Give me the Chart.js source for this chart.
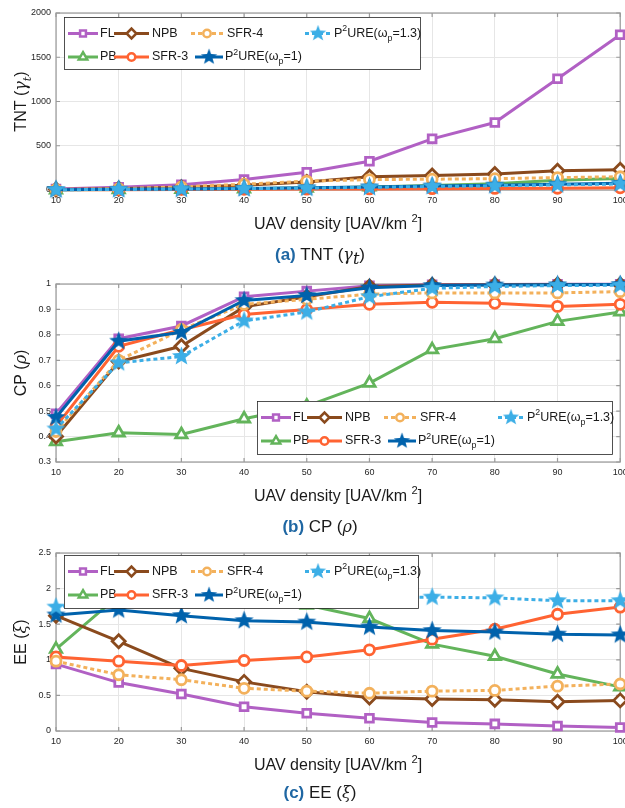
<!DOCTYPE html>
<html>
<head>
<meta charset="utf-8">
<script src="https://cdn.jsdelivr.net/npm/chart.js@4.4.1/dist/chart.umd.min.js"></script>
<style>
    html, body { margin: 0; background: #fff; overflow: hidden; }
    #wrap { position: relative; width: 625px; height: 808px; font-family: "Liberation Sans", Arial, sans-serif; overflow: hidden; }
    #wrap canvas { position: absolute; left: 0; }
    .cap { position: absolute; left: 0; width: 640px; text-align: center; font-size: 17px; line-height: 20px; color: #1a1a1a; }
    .cap b { color: #1f67a3; }
    .cap i { font-family: "DejaVu Serif", serif; font-size: 16px; }
    .cap sub { font-size: 11px; }
</style>
</head>
<body>
<div id="wrap">
    <!-- lienzos algo mas anchos que la ventana: la etiqueta "100" queda cortada como en la figura -->
    <canvas id="chartTNT" width="633" height="270" style="top:0px"></canvas>
    <canvas id="chartCP" width="633" height="270" style="top:270px"></canvas>
    <canvas id="chartEE" width="633" height="268" style="top:540px"></canvas>
    <div class="cap" style="top:245px"><b>(a)</b> TNT (<i>γ</i><sub><i>t</i></sub>)</div>
    <div class="cap" style="top:517px"><b>(b)</b> CP (<i>ρ</i>)</div>
    <div class="cap" style="top:783px"><b>(c)</b> EE (<i>ξ</i>)</div>
</div>
<script>
/* ---- datos ---- */
const densidad = [10, 20, 30, 40, 50, 60, 70, 80, 90, 100];

// (a) TNT
const tntFL    = [10, 30, 60, 118, 200, 325, 578, 762, 1258, 1755];
const tntPB    = [2, 5, 8, 14, 22, 35, 50, 70, 110, 130];
const tntNPB   = [5, 15, 30, 55, 90, 150, 165, 182, 218, 230];
const tntSFR3  = [2, 4, 6, 8, 10, 12, 15, 18, 20, 25];
const tntSFR4  = [5, 15, 35, 65, 100, 118, 122, 128, 140, 150];
const tntP2U1  = [3, 8, 12, 18, 25, 35, 45, 55, 65, 75];
const tntP2U13 = [3, 6, 10, 15, 22, 30, 40, 48, 58, 68];

// (b) CP
const cpFL    = [0.49, 0.785, 0.835, 0.95, 0.972, 0.993, 0.997, 0.998, 0.999, 0.999];
const cpPB    = [0.38, 0.415, 0.408, 0.47, 0.52, 0.61, 0.742, 0.785, 0.853, 0.89];
const cpNPB   = [0.40, 0.695, 0.755, 0.91, 0.95, 0.99, 0.996, 0.997, 0.998, 0.998];
const cpSFR3  = [0.44, 0.755, 0.82, 0.88, 0.90, 0.92, 0.928, 0.924, 0.912, 0.92];
const cpSFR4  = [0.42, 0.70, 0.82, 0.92, 0.94, 0.96, 0.965, 0.965, 0.965, 0.97];
const cpP2U1  = [0.475, 0.775, 0.81, 0.935, 0.955, 0.985, 0.994, 0.996, 0.997, 0.998];
const cpP2U13 = [0.43, 0.69, 0.715, 0.855, 0.89, 0.95, 0.983, 0.99, 0.994, 0.995];

// (c) EE
const eeFL    = [0.94, 0.68, 0.52, 0.34, 0.25, 0.18, 0.12, 0.10, 0.07, 0.05];
const eePB    = [1.15, 1.9, 1.95, 1.88, 1.77, 1.58, 1.22, 1.05, 0.80, 0.62];
const eeNPB   = [1.62, 1.26, 0.88, 0.69, 0.55, 0.47, 0.45, 0.44, 0.41, 0.43];
const eeSFR3  = [1.04, 0.98, 0.92, 0.99, 1.04, 1.14, 1.29, 1.43, 1.64, 1.74];
const eeSFR4  = [0.98, 0.79, 0.72, 0.60, 0.56, 0.53, 0.56, 0.57, 0.63, 0.66];
const eeP2U1  = [1.63, 1.70, 1.62, 1.55, 1.53, 1.46, 1.41, 1.39, 1.36, 1.35];
const eeP2U13 = [1.74, 1.85, 1.87, 1.88, 1.88, 1.88, 1.88, 1.87, 1.83, 1.83];

// ticks de los ejes: [min, max, paso]
const ticksTNT = [0, 2000, 500];
const ticksCP = [0.3, 1, 0.1];
const ticksEE = [0, 2.5, 0.5];

const FONT = '"Liberation Sans", Arial, sans-serif';

/* ---- estrella rellena para P2URE ---- */
function crearEstrella(color, size) {
    const c = document.createElement('canvas');
    c.width = size; c.height = size;
    const g = c.getContext('2d');
    const cx = size / 2, cy = size / 2, ro = size / 2 - 0.5, ri = ro * 0.42;
    g.beginPath();
    for (let i = 0; i < 10; i++) {
        const r = i % 2 === 0 ? ro : ri;
        const a = -Math.PI / 2 + i * Math.PI / 5;
        g.lineTo(cx + r * Math.cos(a), cy + r * Math.sin(a));
    }
    g.closePath();
    g.fillStyle = color;
    g.fill();
    return c;
}

/* ---- estilos de cada serie (orden de trazado de MATLAB) ---- */
const estilos = [
    { label: 'FL', seg: [{ t: 'FL' }], color: '#b160c4', point: 'rect', r: 5.5 },
    { label: 'PB', seg: [{ t: 'PB' }], color: '#63b45b', point: 'triangle', r: 6.5 },
    { label: 'NPB', seg: [{ t: 'NPB' }], color: '#8a4a1d', point: 'rectRot', r: 6.5 },
    { label: 'SFR-3', seg: [{ t: 'SFR-3' }], color: '#ff6332', point: 'circle', r: 5 },
    { label: 'SFR-4', seg: [{ t: 'SFR-4' }], color: '#f3b15c', point: 'circle', r: 5, dash: [4, 3] },
    { label: 'P2URE(ωp=1)', seg: [{ t: 'P' }, { t: '2', sup: true }, { t: 'URE(' }, { t: 'ω' }, { t: 'p', sub: true }, { t: '=1)' }],
      color: '#0062ac', star: 21 },
    { label: 'P2URE(ωp=1.3)', seg: [{ t: 'P' }, { t: '2', sup: true }, { t: 'URE(' }, { t: 'ω' }, { t: 'p', sub: true }, { t: '=1.3)' }],
      color: '#3caee6', star: 21, dash: [4, 3] }
];
estilos.forEach(e => { if (e.star) e.img = crearEstrella(e.color, e.star); });

function crearDatasets(series) {
    return series.map((vals, i) => {
        const e = estilos[i];
        return {
            label: e.label,
            data: densidad.map((x, k) => ({ x: x, y: vals[k] })),
            borderColor: e.color,
            backgroundColor: '#fff',
            borderWidth: 3,
            borderDash: e.dash || [],
            pointStyle: e.star ? e.img : e.point,
            pointRadius: e.star ? 10 : e.r,
            pointBorderColor: e.color,
            pointBackgroundColor: '#fff',
            pointBorderWidth: 2.8,
            tension: 0,
            clip: false,
            order: estilos.length - 1 - i
        };
    });
}

/* ---- texto con sub/superindices ---- */
function fuente(s, size) {
    const fs = (s.sub || s.sup) ? size * 0.7 : size;
    return (s.it ? 'italic ' : '') + fs + 'px ' + (s.serif ? '"DejaVu Serif", serif' : FONT);
}
function medirSeg(ctx, segs, size) {
    let w = 0;
    segs.forEach(s => {
        ctx.font = fuente(s, size);
        w += ctx.measureText(s.t).width;
    });
    return w;
}
function dibujarSeg(ctx, segs, x, y, size) {
    ctx.textAlign = 'left';
    ctx.textBaseline = 'middle';
    segs.forEach(s => {
        ctx.font = fuente(s, size);
        const dy = s.sup ? -size * 0.38 : s.sub ? size * 0.38 : 0;
        ctx.fillText(s.t, x, y + dy);
        x += ctx.measureText(s.t).width;
    });
}

/* ---- leyenda estilo MATLAB ---- */
const casillas = [
    { i: 0, row: 0, x0: 4, x1: 34, lx: 36 },
    { i: 2, row: 0, x0: 50, x1: 85, lx: 88 },
    { i: 4, row: 0, x0: 127, x1: 159, lx: 163 },
    { i: 6, row: 0, x0: 241, x1: 267, lx: 270 },
    { i: 1, row: 1, x0: 4, x1: 34, lx: 36 },
    { i: 3, row: 1, x0: 50, x1: 85, lx: 88 },
    { i: 5, row: 1, x0: 131, x1: 159, lx: 161 }
];

const pluginLeyenda = {
    id: 'leyendaMatlab',
    afterDraw(chart, args, opts) {
        const ctx = chart.ctx;
        const b = opts.box;
        ctx.save();
        ctx.fillStyle = '#fff';
        ctx.fillRect(b.x, b.y, b.w, b.h);
        ctx.strokeStyle = '#262626';
        ctx.lineWidth = 0.8;
        ctx.strokeRect(b.x + 0.5, b.y + 0.5, b.w, b.h);
        casillas.forEach(c => {
            const e = estilos[c.i];
            const cy = b.y + (c.row === 0 ? 16.5 : 40);
            ctx.strokeStyle = e.color;
            ctx.lineWidth = 3;
            ctx.setLineDash(e.dash || []);
            ctx.beginPath();
            ctx.moveTo(b.x + c.x0, cy);
            ctx.lineTo(b.x + c.x1, cy);
            ctx.stroke();
            ctx.setLineDash([]);
            const mx = b.x + (c.x0 + c.x1) / 2;
            if (e.star) {
                ctx.drawImage(e.img, mx - 9, cy - 9, 18, 18);
            } else {
                ctx.fillStyle = '#fff';
                ctx.strokeStyle = e.color;
                ctx.lineWidth = 2.5;
                Chart.helpers.drawPoint(ctx, { pointStyle: e.point, radius: e.r * 0.75, rotation: 0, borderWidth: 2.5 }, mx, cy);
            }
            ctx.fillStyle = '#1a1a1a';
            dibujarSeg(ctx, e.seg, b.x + c.lx, cy, 12.5);
        });
        ctx.restore();
    }
};

/* ---- caja de ejes, titulos de ejes ---- */
const pluginEjes = {
    id: 'ejesMatlab',
    beforeDatasetsDraw(chart) {
        const { ctx, chartArea: a, scales } = chart;
        ctx.save();
        ctx.strokeStyle = '#9a9a9a';
        ctx.lineWidth = 1.2;
        ctx.strokeRect(a.left, a.top, a.right - a.left, a.bottom - a.top);
        ctx.beginPath();
        scales.x.ticks.forEach(t => {
            const px = scales.x.getPixelForValue(t.value);
            ctx.moveTo(px, a.bottom); ctx.lineTo(px, a.bottom - 4);
            ctx.moveTo(px, a.top); ctx.lineTo(px, a.top + 4);
        });
        scales.y.ticks.forEach(t => {
            const py = scales.y.getPixelForValue(t.value);
            ctx.moveTo(a.left, py); ctx.lineTo(a.left + 4, py);
            ctx.moveTo(a.right, py); ctx.lineTo(a.right - 4, py);
        });
        ctx.stroke();
        ctx.restore();
    },
    afterDraw(chart, args, opts) {
        const { ctx, chartArea: a } = chart;
        ctx.save();
        ctx.fillStyle = '#1a1a1a';
        // titulo eje x
        const segX = [{ t: 'UAV density [UAV/km ' }, { t: '2', sup: true }, { t: ']' }];
        const wx = medirSeg(ctx, segX, 16);
        dibujarSeg(ctx, segX, (a.left + a.right) / 2 - wx / 2, a.bottom + 35, 16);
        // titulo eje y
        const wy = medirSeg(ctx, opts.yTitulo, 16);
        ctx.translate(22, (a.top + a.bottom) / 2);
        ctx.rotate(-Math.PI / 2);
        dibujarSeg(ctx, opts.yTitulo, -wy / 2, 0, 16);
        ctx.restore();
    }
};

function crearGrafico(id, series, yTicks, alto, arriba, abajo, yTitulo, caja) {
    const ctx = document.getElementById(id);
    return new Chart(ctx, {
        type: 'line',
        data: { datasets: crearDatasets(series) },
        options: {
            responsive: false,
            animation: false,
            devicePixelRatio: 1,
            layout: { padding: { top: arriba, right: 0, left: 0, bottom: 0 } },
            plugins: {
                legend: { display: false },
                tooltip: { enabled: false },
                leyendaMatlab: { box: caja },
                ejesMatlab: { yTitulo: yTitulo }
            },
            scales: {
                x: {
                    type: 'linear',
                    min: 10, max: 100,
                    afterFit: s => { s.height = alto - abajo; },
                    ticks: {
                        stepSize: 10, padding: 5, maxRotation: 0,
                        color: '#262626', font: { family: FONT, size: 9 },
                        callback: v => String(v)
                    },
                    grid: { color: '#e6e6e6', drawTicks: false },
                    border: { display: false }
                },
                y: {
                    min: yTicks[0], max: yTicks[1],
                    afterFit: s => { s.width = 56; },
                    ticks: {
                        stepSize: yTicks[2], padding: 5,
                        color: '#262626', font: { family: FONT, size: 9 },
                        callback: v => String(+v.toFixed(2))
                    },
                    grid: { color: '#e6e6e6', drawTicks: false },
                    border: { display: false }
                }
            }
        },
        plugins: [pluginEjes, pluginLeyenda]
    });
}

crearGrafico('chartTNT', [tntFL, tntPB, tntNPB, tntSFR3, tntSFR4, tntP2U1, tntP2U13], ticksTNT, 270, 13, 190,
    [{ t: 'TNT (' }, { t: 'γ', it: true, serif: true }, { t: 't', it: true, serif: true, sub: true }, { t: ')' }],
    { x: 64, y: 17, w: 356, h: 52 });
crearGrafico('chartCP', [cpFL, cpPB, cpNPB, cpSFR3, cpSFR4, cpP2U1, cpP2U13], ticksCP, 270, 14, 192,
    [{ t: 'CP (' }, { t: 'ρ', it: true, serif: true }, { t: ')' }],
    { x: 257, y: 131, w: 355, h: 53 });
crearGrafico('chartEE', [eeFL, eePB, eeNPB, eeSFR3, eeSFR4, eeP2U1, eeP2U13], ticksEE, 268, 13, 191,
    [{ t: 'EE (' }, { t: 'ξ', it: true, serif: true }, { t: ')' }],
    { x: 64, y: 15, w: 354, h: 53 });
</script>
</body>
</html>
